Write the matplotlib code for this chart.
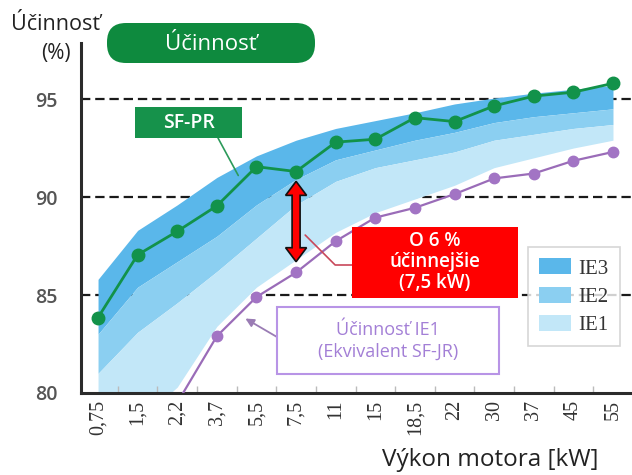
import matplotlib
matplotlib.use("Agg")
import matplotlib.pyplot as plt
from matplotlib.patches import Patch, Polygon, FancyBboxPatch, Rectangle
import numpy as np

# ---------------- data ----------------
categories = ["0,75", "1,5", "2,2", "3,7", "5,5", "7,5", "11", "15",
              "18,5", "22", "30", "37", "45", "55"]
sf_pr = [83.85, 87.05, 88.25, 89.55, 91.55, 91.3, 92.8, 92.95,
         94.05, 93.85, 94.65, 95.15, 95.35, 95.8]
ie1_line = [None, None, 79.5, 82.9, 84.9, 86.15, 87.75, 88.95,
            89.45, 90.15, 90.95, 91.2, 91.85, 92.3]
# band boundaries (top of IE3, IE3/IE2, IE2/IE1, bottom of IE1)
band_top = [85.8, 88.3, 89.6, 91.0, 92.1, 92.9, 93.5, 93.9,
            94.3, 94.75, 95.05, 95.3, 95.5, 95.7]
band_ie3_ie2 = [83.0, 85.4, 86.7, 88.0, 89.6, 90.9, 91.9, 92.4,
                92.9, 93.3, 93.8, 94.1, 94.3, 94.5]
band_ie2_ie1 = [81.0, 83.1, 84.6, 86.2, 87.9, 89.6, 90.8, 91.5,
                91.9, 92.3, 92.9, 93.2, 93.5, 93.7]
band_bottom = [77.0, 78.5, 80.3, 83.4, 85.4, 86.8, 88.2, 89.2,
               89.9, 90.6, 91.5, 92.0, 92.5, 92.9]
yticks = [80, 85, 90, 95]
legend_labels = ["IE3", "IE2", "IE1"]

SANS = "Open Sans"
SERIF = "Liberation Serif"
W, H = 632, 475

fig = plt.figure(figsize=(W/100, H/100), dpi=100)
ax = fig.add_axes([81/W, 1-393/H, 1-81/W, (393-43)/H])
x = np.arange(len(categories))
ax.set_xlim(-0.43, 13.48)
ax.set_ylim(80, 97.86)


def px(xp, yp):
    """figure pixel position measured from top-left -> figure fraction"""
    return (xp / W, 1 - yp / H)


def rect_px(x0, y0, x1, y1, **kw):
    r = Rectangle((x0/100, (H-y1)/100), (x1-x0)/100, (y1-y0)/100,
                  transform=fig.dpi_scale_trans, **kw)
    fig.add_artist(r)
    return r


# dashed reference lines
for yv in yticks[1:]:
    ln = ax.axhline(yv, color="#1a1a1a", lw=1.6, zorder=0.5)
    ln.set_dashes((4.2, 2.2))

# bands
c_ie3, c_ie2, c_ie1 = "#5ab7ea", "#8bcff1", "#c2e7f8"
ax.fill_between(x, band_ie3_ie2, band_top, color=c_ie3, lw=0, zorder=1)
ax.fill_between(x, band_ie2_ie1, band_ie3_ie2, color=c_ie2, lw=0, zorder=1)
ax.fill_between(x, band_bottom, band_ie2_ie1, color=c_ie1, lw=0, zorder=1)

# lines
green = "#12924a"
purple = "#9a6cb8"
ie1_x = [xi for xi, v in zip(x, ie1_line) if v is not None]
ie1_y = [v for v in ie1_line if v is not None]
ax.plot(ie1_x, ie1_y, color=purple, lw=1.6, marker="o", ms=7.5,
        mfc="#a274c4", mec="#a274c4", zorder=3)
ax.plot(x, sf_pr, color=green, lw=2.0, marker="o", ms=9,
        mfc=green, mec=green, zorder=4)

# spines / ticks
for s in ["top", "right"]:
    ax.spines[s].set_visible(False)
for s in ["left", "bottom"]:
    ax.spines[s].set_color("#2b2b2b")
    ax.spines[s].set_linewidth(2.2)
ax.set_yticks(yticks)
ax.set_yticklabels([str(v) for v in yticks], fontfamily=SANS,
                   fontsize=14, fontweight="semibold", color="#555555")
ax.tick_params(axis="y", length=0, pad=17)
ax.set_xticks(x)
ax.set_xticklabels(categories, rotation=90, fontfamily=SERIF,
                   fontsize=14.5, color="#333333")
ax.tick_params(axis="x", length=0, pad=5)
ax.set_xticks(x[:-1] + 0.5, minor=True)
ax.tick_params(axis="x", which="minor", direction="in", length=5,
               width=1, color="#bbbbbb")

fig.text(*px(490, 460), "Výkon motora [kW]", fontfamily=SANS, fontsize=17.5,
         color="#222222", ha="center", va="center")

# y label in top-left
fig.text(*px(55, 25), "Účinnosť", fontfamily=SANS, fontsize=15.5,
         color="#222222", ha="center", va="center")
fig.text(*px(56, 53), "(%)", fontfamily=SANS, fontsize=15,
         color="#222222", ha="center", va="center")

# green title box (pill)
box = FancyBboxPatch((107/100, (H-63)/100), (315-107)/100, 40/100,
                     boxstyle="round,pad=0,rounding_size=0.19",
                     transform=fig.dpi_scale_trans, fc="#0e8a3e", ec="none")
fig.add_artist(box)
fig.text(*px(211, 44), "Účinnosť", fontfamily=SANS, fontsize=16,
         color="white", ha="center", va="center")

# SF-PR label
rect_px(135, 107, 242, 138, fc="#16924b", ec="none", zorder=6)
fig.text(*px(188.5, 122.5), "SF-PR", fontfamily=SANS, fontsize=14,
         fontweight="semibold", color="white", ha="center", va="center",
         zorder=7)
ax.annotate("", xy=(3.54, 91.1), xytext=(218, H-138),
            textcoords="figure pixels",
            arrowprops=dict(arrowstyle="-", color="#2c9a5a", lw=1.2,
                            shrinkA=0, shrinkB=0), zorder=6)

# red double arrow between the two curves at 7.5 kW
i75 = categories.index("7,5")
y_top = sf_pr[i75] - 0.5
y_bot = ie1_line[i75] + 0.55
bb = ax.get_position()
px_per_x = bb.width * W / (13.48 + 0.43)
px_per_y = bb.height * H / (97.86 - 80)
hw = 10.5 / px_per_x
sw = 4.0 / px_per_x
hl = 14 / px_per_y
cx = x[i75]
verts = [(cx, y_top), (cx + hw, y_top - hl), (cx + sw, y_top - hl),
         (cx + sw, y_bot + hl), (cx + hw, y_bot + hl), (cx, y_bot),
         (cx - hw, y_bot + hl), (cx - sw, y_bot + hl), (cx - sw, y_top - hl),
         (cx - hw, y_top - hl)]
ax.add_patch(Polygon(verts, closed=True, fc="#ff0000", ec="#111111",
                     lw=1.2, zorder=7))

# red box
rect_px(352, 227, 518, 298, fc="#ff0000", ec="none", zorder=8)
fig.text(*px(435, 262), "O 6 %\núčinnejšie\n(7,5 kW)", fontfamily=SANS,
         fontsize=13.5, fontweight="semibold", color="white", ha="center",
         va="center", linespacing=1.05, zorder=9)
ax.annotate("", xy=(5.23, 88.06), xytext=(352, H-265),
            textcoords="figure pixels",
            arrowprops=dict(arrowstyle="-", color="#c8485a", lw=1.2,
                            shrinkA=0, shrinkB=0,
                            connectionstyle="angle,angleA=180,angleB=-45,rad=0"),
            zorder=8)

# purple IE1 box
rect_px(277, 307, 499, 374, fc="white", ec="#b894e6", lw=1.5, zorder=8)
fig.text(*px(388, 341), "Účinnosť IE1\n(Ekvivalent SF-JR)", fontfamily=SANS,
         fontsize=13, color="#a37fd6", ha="center", va="center",
         linespacing=1.3, zorder=9)
ax.annotate("", xy=(3.72, 83.8), xytext=(277, H-337),
            textcoords="figure pixels",
            arrowprops=dict(arrowstyle="-|>,head_length=0.5,head_width=0.25",
                            color="#9a7cb4", lw=1.3, shrinkA=0, shrinkB=0),
            zorder=8)

# legend
handles = [Patch(fc=c, ec="none") for c in (c_ie3, c_ie2, c_ie1)]
leg = ax.legend(handles, legend_labels, loc="upper left",
                bbox_to_anchor=px(528, 247),
                bbox_transform=fig.transFigure, frameon=True, fancybox=False,
                prop=dict(family=SERIF, size=15), handlelength=1.5,
                handleheight=0.8, handletextpad=0.35, labelspacing=0.38,
                borderpad=0.55, borderaxespad=0, labelcolor="#333333")
leg.get_frame().set_edgecolor("#cccccc")
leg.get_frame().set_linewidth(1.2)
leg.set_zorder(9)

fig.savefig("out.png", dpi=100)
